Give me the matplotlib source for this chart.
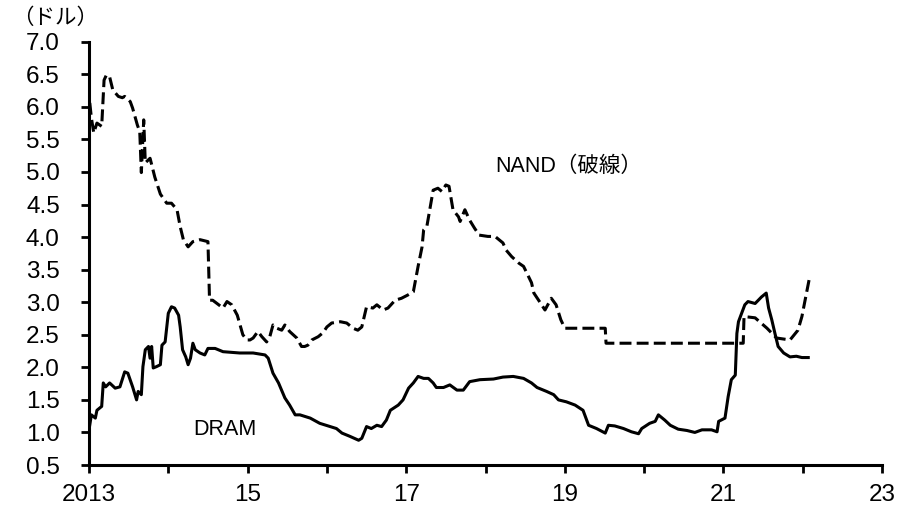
import matplotlib
matplotlib.use("Agg")
import matplotlib.pyplot as plt

plt.rcParams['font.family'] = ['Liberation Sans', 'Noto Sans CJK JP', 'DejaVu Sans']

nand_x = [2013.01, 2013.03, 2013.06, 2013.10, 2013.16, 2013.19, 2013.22, 2013.26, 2013.30, 2013.37,
          2013.42, 2013.45, 2013.52, 2013.55, 2013.61, 2013.64, 2013.66, 2013.69, 2013.71, 2013.77,
          2013.83, 2013.90, 2013.98, 2014.04, 2014.11, 2014.15, 2014.19, 2014.25, 2014.31, 2014.40,
          2014.50, 2014.52, 2014.56, 2014.69, 2014.74, 2014.80, 2014.87, 2014.94, 2014.99, 2015.03,
          2015.07, 2015.13, 2015.18, 2015.24, 2015.28, 2015.32, 2015.37, 2015.43, 2015.47, 2015.53,
          2015.62, 2015.68, 2015.72, 2015.76, 2015.81, 2015.89, 2015.95, 2016.00, 2016.06, 2016.17,
          2016.25, 2016.33, 2016.39, 2016.44, 2016.50, 2016.58, 2016.63, 2016.71, 2016.77, 2016.86,
          2016.94, 2017.02, 2017.09, 2017.15, 2017.20, 2017.22, 2017.26, 2017.34, 2017.40, 2017.45,
          2017.50, 2017.54, 2017.59, 2017.66, 2017.68, 2017.74, 2017.80, 2017.86, 2017.92, 2018.03,
          2018.12, 2018.22, 2018.26, 2018.33, 2018.42, 2018.48, 2018.58, 2018.61, 2018.67, 2018.75,
          2018.83, 2018.89, 2018.95, 2019.00, 2019.06, 2019.16, 2019.51, 2019.52, 2021.25, 2021.26,
          2021.40, 2021.55, 2021.67, 2021.84, 2021.94, 2021.99, 2022.03, 2022.08]
nand_y = [6.06, 5.83, 5.60, 5.75, 5.70, 6.41, 6.49, 6.46, 6.26, 6.16,
          6.14, 6.16, 6.08, 5.98, 5.72, 5.62, 4.99, 5.80, 5.14, 5.21,
          4.92, 4.66, 4.52, 4.52, 4.42, 4.16, 3.96, 3.85, 3.93, 3.96,
          3.93, 3.03, 3.03, 2.91, 3.01, 2.96, 2.80, 2.50, 2.42, 2.42,
          2.45, 2.55, 2.47, 2.39, 2.47, 2.65, 2.60, 2.57, 2.65, 2.55,
          2.45, 2.32, 2.32, 2.34, 2.42, 2.47, 2.53, 2.62, 2.68, 2.70,
          2.68, 2.60, 2.57, 2.62, 2.93, 2.91, 2.96, 2.88, 2.91, 3.03,
          3.06, 3.11, 3.16, 3.55, 3.85, 4.11, 4.16, 4.72, 4.75, 4.70,
          4.80, 4.78, 4.42, 4.31, 4.24, 4.42, 4.26, 4.14, 4.03, 4.01,
          4.01, 3.91, 3.80, 3.70, 3.60, 3.55, 3.30, 3.14, 3.03, 2.88,
          3.06, 2.96, 2.73, 2.60, 2.60, 2.60, 2.60, 2.37, 2.37, 2.78,
          2.76, 2.60, 2.45, 2.42, 2.57, 2.78, 3.03, 3.34]

dram_x = [2013.00, 2013.03, 2013.08, 2013.10, 2013.16, 2013.18, 2013.21, 2013.26, 2013.33, 2013.39,
          2013.45, 2013.49, 2013.55, 2013.60, 2013.62, 2013.66, 2013.68, 2013.71, 2013.75, 2013.77,
          2013.79, 2013.81, 2013.85, 2013.90, 2013.92, 2013.96, 2014.00, 2014.04, 2014.08, 2014.13,
          2014.15, 2014.18, 2014.22, 2014.25, 2014.28, 2014.31, 2014.34, 2014.40, 2014.46, 2014.50,
          2014.59, 2014.69, 2014.90, 2015.07, 2015.22, 2015.26, 2015.32, 2015.39, 2015.47, 2015.53,
          2015.60, 2015.66, 2015.79, 2015.91, 2016.04, 2016.12, 2016.19, 2016.29, 2016.40, 2016.44,
          2016.50, 2016.56, 2016.63, 2016.69, 2016.75, 2016.80, 2016.90, 2016.96, 2017.03, 2017.09,
          2017.15, 2017.22, 2017.28, 2017.34, 2017.38, 2017.47, 2017.55, 2017.64, 2017.72, 2017.80,
          2017.93, 2018.10, 2018.22, 2018.35, 2018.48, 2018.58, 2018.65, 2018.77, 2018.86, 2018.92,
          2019.02, 2019.13, 2019.23, 2019.30, 2019.40, 2019.51, 2019.55, 2019.63, 2019.74, 2019.84,
          2019.93, 2019.97, 2020.07, 2020.14, 2020.18, 2020.26, 2020.33, 2020.43, 2020.54, 2020.64,
          2020.73, 2020.85, 2020.92, 2020.94, 2021.02, 2021.06, 2021.10, 2021.15, 2021.17, 2021.19,
          2021.23, 2021.27, 2021.31, 2021.40, 2021.44, 2021.48, 2021.54, 2021.57, 2021.61, 2021.65,
          2021.69, 2021.76, 2021.84, 2021.92, 2021.99, 2022.07]
dram_y = [1.04, 1.27, 1.22, 1.34, 1.40, 1.76, 1.70, 1.76, 1.68, 1.70,
          1.93, 1.91, 1.70, 1.50, 1.63, 1.58, 2.01, 2.27, 2.32, 2.14,
          2.32, 1.99, 2.01, 2.04, 2.34, 2.39, 2.83, 2.93, 2.91, 2.80,
          2.62, 2.27, 2.16, 2.04, 2.14, 2.37, 2.27, 2.22, 2.19, 2.29,
          2.29, 2.24, 2.22, 2.22, 2.19, 2.14, 1.91, 1.76, 1.53, 1.42,
          1.27, 1.27, 1.22, 1.14, 1.09, 1.06, 0.99, 0.94, 0.88, 0.91,
          1.09, 1.06, 1.11, 1.09, 1.19, 1.34, 1.42, 1.50, 1.68, 1.76,
          1.86, 1.83, 1.83, 1.76, 1.69, 1.69, 1.73, 1.65, 1.65, 1.78,
          1.81, 1.82, 1.85, 1.86, 1.83, 1.76, 1.69, 1.63, 1.58, 1.50,
          1.47, 1.42, 1.34, 1.11, 1.06, 0.99, 1.11, 1.10, 1.06, 1.01,
          0.98, 1.06, 1.14, 1.17, 1.27, 1.19, 1.11, 1.05, 1.03, 1.00,
          1.04, 1.04, 1.01, 1.17, 1.22, 1.55, 1.81, 1.88, 2.52, 2.70,
          2.83, 2.96, 3.01, 2.98, 3.03, 3.08, 3.14, 2.91, 2.73, 2.52,
          2.32, 2.22, 2.16, 2.17, 2.15, 2.15]

x_ticks = [2013, 2014, 2015, 2016, 2017, 2018, 2019, 2020, 2021, 2022, 2023]
x_labels = ['2013', '', '15', '', '17', '', '19', '', '21', '', '23']
y_ticks = [0.5, 1.0, 1.5, 2.0, 2.5, 3.0, 3.5, 4.0, 4.5, 5.0, 5.5, 6.0, 6.5, 7.0]

fig = plt.figure(figsize=(8.98, 5.09), dpi=100)
ax = fig.add_axes([89/898, 1 - 465/509, (882 - 89)/898, (465 - 41.7)/509])

ax.plot(dram_x, dram_y, color='black', lw=2.2, solid_joinstyle='round')
ax.plot(nand_x, nand_y, color='black', lw=2.2, linestyle=(0, (3.9, 1.7)), dash_capstyle='butt')

ax.set_xlim(2013, 2023)
ax.set_ylim(0.5, 7.0)
ax.set_xticks(x_ticks)
ax.set_xticklabels(x_labels)
ax.set_yticks(y_ticks)
ax.set_yticklabels([f'{v:.1f}' for v in y_ticks])

for s in ['top', 'right']:
    ax.spines[s].set_visible(False)
for s in ['left', 'bottom']:
    ax.spines[s].set_linewidth(2.2)
    ax.spines[s].set_color('black')
ax.tick_params(axis='both', direction='out', length=6, width=2, labelsize=17.5, colors='black')
ax.tick_params(axis='y', pad=15)
ax.tick_params(axis='x', pad=8)

ax.text(2018.12, 5.09, 'NAND（破線）', fontsize=15.5, ha='left', va='center')
ax.text(2014.31, 1.04, 'DRAM', fontsize=15.5, ha='left', va='center')
fig.text(12/898, 1 - 18/509, '（ドル）', fontsize=15.5, ha='left', va='center')

fig.savefig('out.png', dpi=100)
